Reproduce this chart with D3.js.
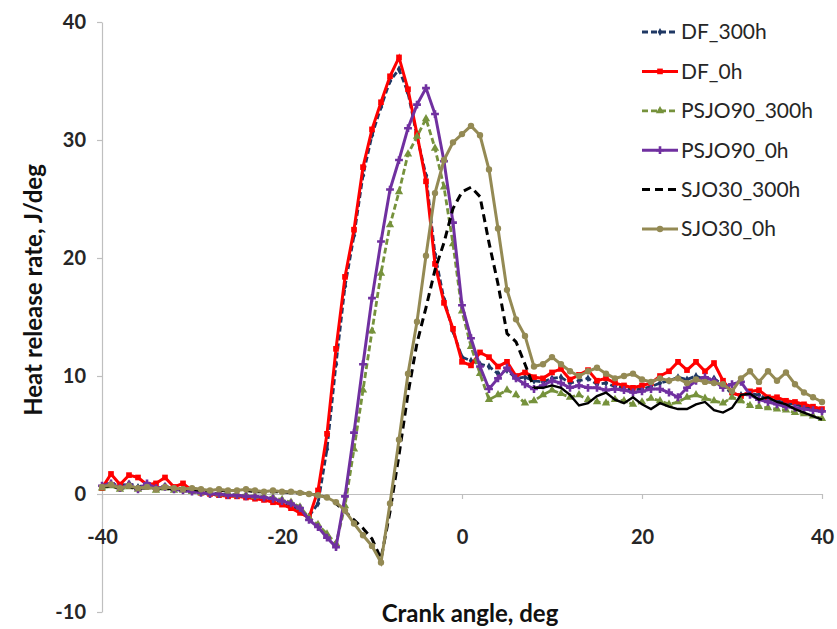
<!DOCTYPE html>
<html>
<head>
<meta charset="utf-8">
<script src="https://cdn.jsdelivr.net/npm/d3@7"></script>
<style>
  body { margin: 0; background: #fff; }
  text { font-family: Lato, "Open Sans", sans-serif; }
</style>
</head>
<body>
<script>
// crank angle, deg
var angles = [-40,-39,-38,-37,-36,-35,-34,-33,-32,-31,-30,-29,-28,-27,-26,-25,-24,-23,-22,-21,
  -20,-19,-18,-17,-16,-15,-14,-13,-12,-11,-10,-9,-8,-7,-6,-5,-4,-3,-2,-1,
  0,1,2,3,4,5,6,7,8,9,10,11,12,13,14,15,16,17,18,19,20,21,22,23,24,25,26,27,28,29,
  30,31,32,33,34,35,36,37,38,39,40];

// heat release rate, J/deg
var df300 = [0.6,0.9,0.7,0.9,0.6,0.8,0.5,0.7,0.4,0.5,
  0.3,0.2,0.1,0.0,0.0,-0.1,-0.2,-0.3,-0.4,-0.5,
  -0.7,-1.0,-1.4,-1.9,-0.8,3.8,11.0,17.6,21.9,27.0,
  30.4,32.8,35.0,36.0,34.0,30.3,27.0,20.3,16.5,13.8,
  11.6,11.3,11.0,10.8,10.2,10.5,9.8,9.9,9.6,9.5,
  9.8,9.9,9.4,9.6,9.8,9.3,9.4,9.1,9.0,8.8,
  8.9,9.1,9.4,9.6,9.9,9.7,10.0,9.7,9.8,9.2,
  8.5,8.4,8.5,8.4,8.0,7.9,7.7,7.6,7.4,7.2,7.0];
var df0 = [0.5,1.7,0.8,1.6,1.4,0.8,0.9,1.4,0.6,0.9,
  0.3,0.1,0.0,-0.1,-0.2,-0.2,-0.3,-0.4,-0.5,-0.7,
  -0.9,-1.2,-1.6,-2.0,0.3,5.1,12.3,18.4,22.4,27.7,
  30.9,33.2,35.4,37.0,34.3,30.5,26.5,19.5,16.2,14.0,
  11.2,10.9,12.0,11.6,10.8,11.2,10.0,10.3,9.9,9.8,
  10.3,10.6,9.7,10.1,10.5,9.6,9.8,9.4,9.2,9.0,
  9.2,9.4,10.0,10.4,11.2,10.5,11.2,10.4,11.1,9.6,
  8.6,8.3,8.7,8.8,8.2,8.2,7.9,7.8,7.6,7.4,7.2];
var psjo300 = [0.5,0.7,0.4,0.6,0.4,0.6,0.3,0.5,0.3,0.3,
  0.2,0.1,0.1,0.0,0.0,-0.1,-0.1,-0.2,-0.2,-0.3,
  -0.5,-0.7,-1.1,-2.0,-2.6,-3.4,-4.2,-1.0,3.8,8.8,
  13.8,18.7,22.8,25.6,28.8,30.3,31.8,29.3,26.0,21.2,
  15.5,12.5,10.2,8.0,8.4,8.8,8.4,7.7,7.9,8.4,
  8.8,8.5,8.2,8.4,8.0,7.8,7.7,8.0,7.9,7.6,
  7.8,8.1,7.9,7.6,7.8,8.2,8.4,8.1,7.9,7.7,
  8.2,7.9,7.5,7.4,7.3,7.2,7.1,6.9,6.8,6.6,6.4];
var psjo0 = [0.7,0.9,0.5,0.8,0.4,0.9,0.5,0.6,0.4,0.3,
  0.2,0.1,0.0,0.0,-0.1,-0.1,-0.2,-0.2,-0.3,-0.4,
  -0.6,-0.8,-1.2,-2.2,-2.8,-3.7,-4.5,-0.2,5.2,11.0,
  16.6,21.4,25.8,28.3,31.0,33.0,34.4,32.2,28.2,23.0,
  16.0,13.2,10.8,8.9,9.8,10.7,9.8,9.3,8.9,9.2,
  9.6,9.4,9.0,9.2,9.0,9.0,8.8,8.9,8.8,8.6,
  8.7,8.9,8.9,8.6,8.2,9.0,9.6,9.9,9.6,9.0,
  9.3,9.5,8.4,8.0,7.8,7.6,7.4,7.3,7.2,7.1,7.0];
var sjo300 = [0.6,0.7,0.5,0.6,0.5,0.5,0.4,0.5,0.4,0.4,
  0.4,0.3,0.3,0.3,0.3,0.3,0.3,0.2,0.2,0.2,
  0.2,0.1,0.1,0.0,-0.1,-0.3,-0.8,-1.5,-2.2,-2.9,
  -3.8,-5.5,-1.5,3.3,8.5,12.8,15.8,19.0,21.3,24.2,
  25.6,26.0,25.2,21.3,17.8,13.6,12.9,11.0,9.0,9.0,
  9.2,9.0,8.4,7.5,7.7,8.3,8.6,8.0,7.7,8.2,
  7.6,7.2,7.7,7.4,7.2,7.2,7.6,7.8,7.1,6.9,
  7.3,8.4,8.5,8.0,8.2,7.8,7.6,7.2,6.9,6.6,6.3];
var sjo0 = [0.6,0.8,0.5,0.7,0.5,0.6,0.4,0.6,0.5,0.4,
  0.5,0.4,0.3,0.4,0.3,0.3,0.4,0.3,0.2,0.3,
  0.2,0.2,0.1,0.0,-0.1,-0.3,-0.7,-1.4,-2.5,-3.5,
  -4.4,-5.8,-0.8,4.6,10.2,14.6,20.2,25.5,28.3,29.8,
  30.5,31.2,30.4,27.5,22.5,17.3,14.8,13.4,10.8,11.0,
  11.6,11.0,10.4,10.0,10.4,10.7,10.2,9.8,10.0,10.2,
  9.7,9.5,9.8,9.6,9.8,9.4,9.7,9.5,9.4,9.3,
  8.7,9.8,10.4,9.5,10.4,9.6,10.3,9.3,8.6,8.2,7.8];

var seriesNames = ['DF_300h','DF_0h','PSJO90_300h','PSJO90_0h','SJO30_300h','SJO30_0h'];
var xTicks = [-40,-20,0,20,40];
var yTicks = [-10,0,10,20,30,40];

var styles = [
  { values: df300,   color: '#1f3864', dash: '6,3', sym: d3.symbolDiamond,  size: 18, width: 2.8 },
  { values: df0,     color: '#ff0000', dash: null,  sym: d3.symbolSquare,   size: 32, width: 3 },
  { values: psjo300, color: '#76923c', dash: '6,3', sym: d3.symbolTriangle, size: 30, width: 2.8 },
  { values: psjo0,   color: '#7030a0', dash: null,  sym: d3.symbolCross,    size: 34, width: 3 },
  { values: sjo300,  color: '#000000', dash: '8,5', sym: null,              size: 0,  width: 3 },
  { values: sjo0,    color: '#948a54', dash: null,  sym: d3.symbolCircle,   size: 32, width: 3 }
];

var w = 837, h = 629;

var xScale = d3.scaleLinear().domain([-40, 40]).range([102, 822]);
var yScale = d3.scaleLinear().domain([-10, 40]).range([612, 22]);

var svg = d3.select('body').append('svg')
  .attr('width', w)
  .attr('height', h);

// axes, plain hyphen for negatives like the original
var fmt = function(d) { return String(d); };
var yAxis = d3.axisLeft(yScale).tickValues(yTicks).tickFormat(fmt).tickSize(5).tickSizeOuter(0).tickPadding(11);
var xAxis = d3.axisBottom(xScale).tickValues(xTicks).tickFormat(fmt).tickSize(5).tickSizeOuter(0).tickPadding(31);

var gy = svg.append('g')
  .attr('transform', 'translate(' + xScale(-40) + ',0)')
  .call(yAxis);
var gx = svg.append('g')
  .attr('transform', 'translate(0,' + yScale(0) + ')')
  .call(xAxis);

[gy, gx].forEach(function(g) {
  g.select('.domain').attr('stroke', '#bfbfbf').attr('stroke-width', 1.2);
  g.selectAll('.tick line').attr('stroke', '#bfbfbf').attr('stroke-width', 1.2);
  g.selectAll('.tick text')
    .attr('fill', '#262626')
    .style('font-size', '20px')
    .style('font-weight', 'bold');
});

// axis titles
svg.append('text')
  .attr('transform', 'translate(42,290) rotate(-90)')
  .attr('text-anchor', 'middle')
  .attr('fill', '#111')
  .style('font-size', '24px')
  .style('font-weight', 'bold')
  .text('Heat release rate, J/deg');

svg.append('text')
  .attr('x', 470)
  .attr('y', 622)
  .attr('text-anchor', 'middle')
  .attr('fill', '#111')
  .style('font-size', '24px')
  .style('font-weight', 'bold')
  .text('Crank angle, deg');

var line = d3.line()
  .x(function(d) { return xScale(d.a); })
  .y(function(d) { return yScale(d.v); });

styles.forEach(function(s, i) {
  var pts = angles.map(function(a, j) { return { a: a, v: s.values[j] }; });
  var g = svg.append('g').attr('class', 'series');

  if (i === 4) {
    // dashed through the peak, the tail reads as a solid wiggle
    g.append('path')
      .datum(pts.filter(function(d) { return d.a <= 8; }))
      .attr('d', line)
      .attr('fill', 'none')
      .attr('stroke', s.color)
      .attr('stroke-width', s.width)
      .attr('stroke-dasharray', s.dash);
    g.append('path')
      .datum(pts.filter(function(d) { return d.a >= 8; }))
      .attr('d', line)
      .attr('fill', 'none')
      .attr('stroke', s.color)
      .attr('stroke-width', 2.4);
  } else {
    g.append('path')
      .datum(pts)
      .attr('d', line)
      .attr('fill', 'none')
      .attr('stroke', s.color)
      .attr('stroke-width', s.width)
      .attr('stroke-dasharray', s.dash);
  }

  if (s.sym) {
    g.selectAll('path.mk')
      .data(pts)
      .enter()
      .append('path')
      .attr('class', 'mk')
      .attr('d', d3.symbol().type(s.sym).size(s.size))
      .attr('transform', function(d) { return 'translate(' + xScale(d.a) + ',' + yScale(d.v) + ')'; })
      .attr('fill', s.color);
  }
});

// legend
var legend = svg.append('g');
seriesNames.forEach(function(name, i) {
  var s = styles[i];
  var ly = 32 + i * 39.4;
  legend.append('line')
    .attr('x1', 642).attr('x2', 678)
    .attr('y1', ly).attr('y2', ly)
    .attr('stroke', s.color)
    .attr('stroke-width', s.width)
    .attr('stroke-dasharray', s.dash);
  if (s.sym) {
    legend.append('path')
      .attr('d', d3.symbol().type(s.sym).size(s.size))
      .attr('transform', 'translate(660,' + ly + ')')
      .attr('fill', s.color);
  }
  legend.append('text')
    .attr('x', 681)
    .attr('y', ly)
    .attr('dy', '0.35em')
    .attr('fill', '#262626')
    .style('font-size', '21px')
    .text(name);
});
</script>
</body>
</html>
